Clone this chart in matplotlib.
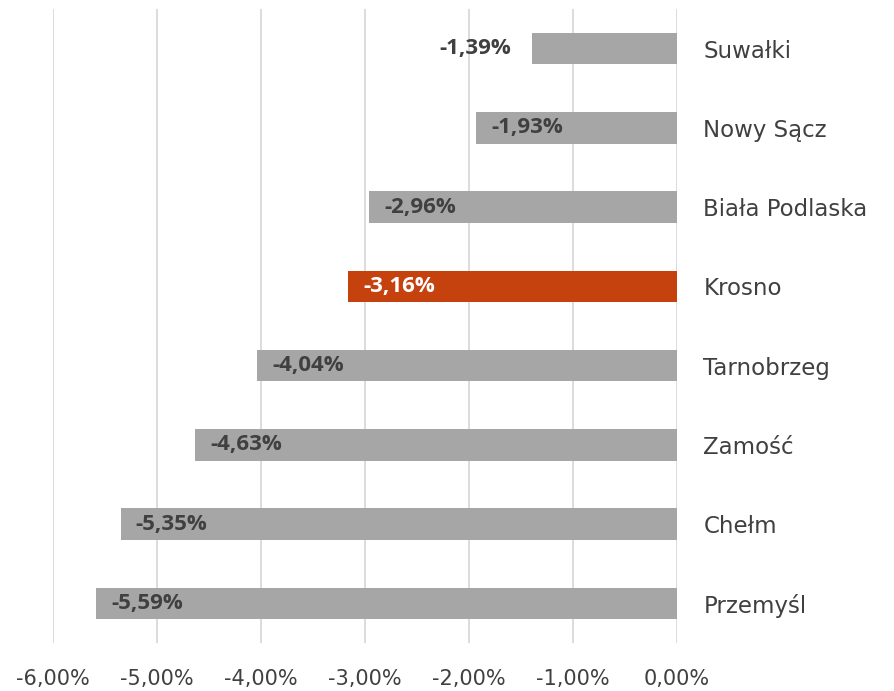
import matplotlib.pyplot as plt
from matplotlib.ticker import FuncFormatter

# cities, top to bottom
cities = ["Suwałki", "Nowy Sącz", "Biała Podlaska", "Krosno",
          "Tarnobrzeg", "Zamość", "Chełm", "Przemyśl"]
change = [-1.39, -1.93, -2.96, -3.16, -4.04, -4.63, -5.35, -5.59]
highlight = "Krosno"

gray = "#A6A6A6"
orange = "#C5420E"
txt = "#404040"

fig = plt.figure(figsize=(8.95, 6.91), dpi=100)
ax = fig.add_axes([0.0592, 0.0695, 0.6972, 0.9175])

ypos = list(range(len(cities)))
colors = [orange if c == highlight else gray for c in cities]
bars = ax.barh(ypos, change, height=0.4, color=colors, zorder=3)

ax.set_ylim(len(cities) - 0.5, -0.5)
ax.set_xlim(-6, 0)
ax.set_xticks([-6, -5, -4, -3, -2, -1, 0])
ax.xaxis.set_major_formatter(FuncFormatter(lambda v, p: ("%.2f%%" % v).replace(".", ",")))
ax.grid(axis="x", color="#D9D9D9", linewidth=1.3, zorder=0)

ax.set_yticks(ypos)
ax.set_yticklabels(cities, fontsize=16.5, family=["DejaVu Sans"], color=txt)
ax.yaxis.tick_right()
ax.tick_params(axis="y", length=0, pad=19)
ax.tick_params(axis="x", length=0, pad=19, labelsize=15, labelcolor=txt)

for s in ax.spines.values():
    s.set_visible(False)

# data labels
for y, v, c in zip(ypos, change, cities):
    s = ("%.2f%%" % v).replace(".", ",")
    if c == "Suwałki":
        ax.annotate(s, (v, y), xytext=(-15, 0), textcoords="offset points",
                    ha="right", va="center", fontsize=16, fontweight="bold",
                    color=txt, family=["Open Sans", "DejaVu Sans"], zorder=4)
    else:
        col = "white" if c == highlight else txt
        ax.annotate(s, (v, y), xytext=(11, 0), textcoords="offset points",
                    ha="left", va="center", fontsize=16, fontweight="bold",
                    color=col, family=["Open Sans", "DejaVu Sans"], zorder=4)

fig.savefig("out.png", dpi=100)
